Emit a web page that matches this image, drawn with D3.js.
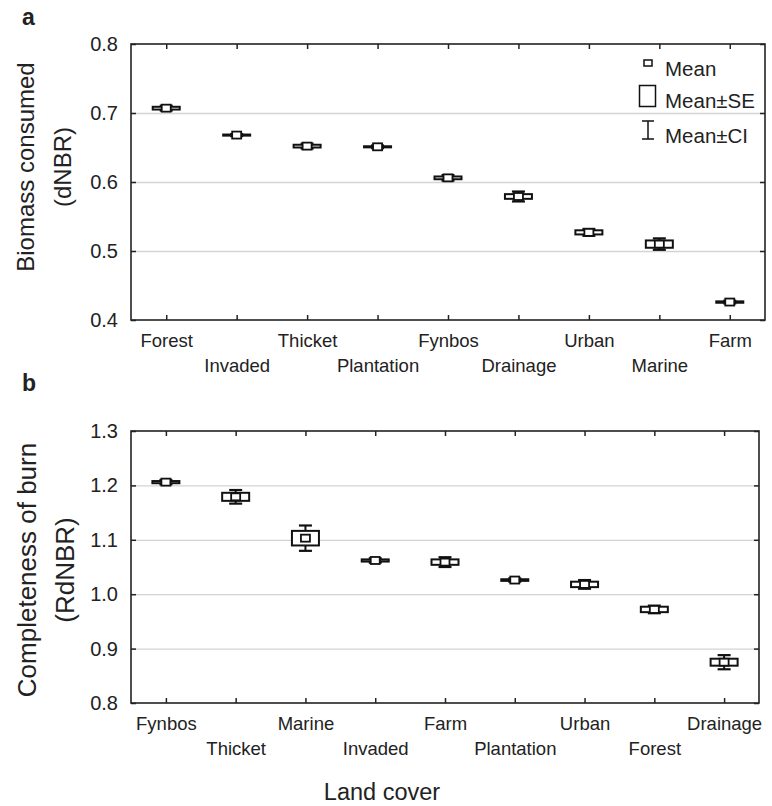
<!DOCTYPE html>
<html>
<head>
<meta charset="utf-8">
<script src="https://cdn.jsdelivr.net/npm/d3@7"></script>
<style>
  body { margin: 0; background: #fff; }
  text { font-family: "Liberation Sans", Arial, sans-serif; fill: #222; }
</style>
</head>
<body>
<div class="center"></div>
<script>
const w = 772;
const h = 806;

// panel a
const topCats = ["Forest", "Invaded", "Thicket", "Plantation", "Fynbos", "Drainage", "Urban", "Marine", "Farm"];
const topMean = [0.707, 0.668, 0.652, 0.651, 0.606, 0.579, 0.527, 0.510, 0.426];
const topSE   = [0.002, 0.0008, 0.002, 0.0008, 0.002, 0.0034, 0.003, 0.0053, 0.001];
const topCI   = [0.0035, 0.0015, 0.0035, 0.002, 0.004, 0.0072, 0.005, 0.0083, 0.002];
const topTicks = [0.4, 0.5, 0.6, 0.7, 0.8];

// panel b
const botCats = ["Fynbos", "Thicket", "Marine", "Invaded", "Farm", "Plantation", "Urban", "Forest", "Drainage"];
const botMean = [1.206, 1.179, 1.103, 1.062, 1.059, 1.026, 1.018, 0.972, 0.875];
const botSE   = [0.002, 0.0074, 0.0134, 0.002, 0.005, 0.0015, 0.005, 0.005, 0.0064];
const botCI   = [0.004, 0.0125, 0.0233, 0.004, 0.009, 0.003, 0.008, 0.007, 0.013];
const botTicks = [0.8, 0.9, 1.0, 1.1, 1.2, 1.3];

const svg = d3.select(".center")
    .append("svg")
    .attr("width", w)
    .attr("height", h);

function panel(opt) {
    const { x0, x1, y0, y1, cats, mean, se, ci, ticks, letter, title1, title2, t1x, t2x, tcy, tsize } = opt;

    const xScale = d3.scalePoint().domain(cats).range([x0, x1]).padding(0.5);
    const yScale = d3.scaleLinear().domain([ticks[0], ticks[ticks.length - 1]]).range([y1, y0]);

    const g = svg.append("g");

    // grid
    g.append("g")
        .attr("transform", `translate(${x0},0)`)
        .call(d3.axisLeft(yScale).tickValues(ticks.slice(1, -1)).tickSize(-(x1 - x0)).tickFormat(""))
        .call(a => a.select(".domain").remove())
        .call(a => a.selectAll("line").attr("stroke", "#d4d4d4").attr("stroke-width", 1.3));

    // axes, ticks inward
    g.append("g")
        .attr("transform", `translate(${x0},0)`)
        .call(d3.axisLeft(yScale).tickValues(ticks).tickSize(-5).tickPadding(13).tickFormat(d3.format(".1f")))
        .call(a => a.select(".domain").remove())
        .call(a => a.selectAll("line").attr("stroke", "#222").attr("stroke-width", 1.5))
        .call(a => a.selectAll("text").attr("font-size", 20).attr("fill", "#333").style("font-family", "Liberation Sans, Arial, sans-serif"));

    g.append("g")
        .attr("transform", `translate(${x1},0)`)
        .call(d3.axisRight(yScale).tickValues(ticks).tickSize(-5).tickFormat(""))
        .call(a => a.select(".domain").remove())
        .call(a => a.selectAll("line").attr("stroke", "#222").attr("stroke-width", 1.5));

    g.append("g")
        .attr("transform", `translate(0,${y0})`)
        .call(d3.axisTop(xScale).tickSize(-5).tickFormat(""))
        .call(a => a.select(".domain").remove())
        .call(a => a.selectAll("line").attr("stroke", "#222").attr("stroke-width", 1.5));

    g.append("g")
        .attr("transform", `translate(0,${y1})`)
        .call(d3.axisBottom(xScale).tickSize(-5).tickPadding(14))
        .call(a => a.select(".domain").remove())
        .call(a => a.selectAll("line").attr("stroke", "#222").attr("stroke-width", 1.5))
        .call(a => a.selectAll("text")
            .attr("font-size", 18.5)
            .attr("fill", "#222")
            .style("font-family", "Liberation Sans, Arial, sans-serif")
            .attr("y", (d, i) => i % 2 ? 39 : 14));

    g.append("rect")
        .attr("x", x0).attr("y", y0)
        .attr("width", x1 - x0).attr("height", y1 - y0)
        .attr("fill", "none").attr("stroke", "#222").attr("stroke-width", 1.6);

    // boxes
    const data = cats.map((c, i) => ({ c, m: mean[i], s: se[i], ci: ci[i] }));
    const box = g.selectAll(".box").data(data).enter().append("g").attr("class", "box");

    box.append("line")
        .attr("x1", d => xScale(d.c)).attr("x2", d => xScale(d.c))
        .attr("y1", d => yScale(d.m + d.ci)).attr("y2", d => yScale(d.m - d.ci))
        .attr("stroke", "#111").attr("stroke-width", 2);
    box.selectAll(".cap").data(d => [[d.c, d.m + d.ci], [d.c, d.m - d.ci]]).enter().append("line")
        .attr("x1", d => xScale(d[0]) - 6.5).attr("x2", d => xScale(d[0]) + 6.5)
        .attr("y1", d => yScale(d[1])).attr("y2", d => yScale(d[1]))
        .attr("stroke", "#111").attr("stroke-width", 2.2);
    box.append("rect")
        .attr("x", d => xScale(d.c) - 13.5)
        .attr("y", d => yScale(d.m + d.s))
        .attr("width", 27)
        .attr("height", d => Math.max(yScale(d.m - d.s) - yScale(d.m + d.s), 0.5))
        .attr("fill", "#fff").attr("stroke", "#111").attr("stroke-width", 2);
    box.append("rect")
        .attr("x", d => xScale(d.c) - 4.5)
        .attr("y", d => yScale(d.m) - 3.5)
        .attr("width", 9).attr("height", 7)
        .attr("fill", "#fff").attr("stroke", "#111").attr("stroke-width", 1.8);

    // panel letter and y title
    svg.append("text").attr("x", 22).attr("y", letter.y)
        .attr("font-size", 23).attr("font-weight", "bold").attr("fill", "#111").text(letter.t);

    svg.append("text")
        .attr("transform", `translate(${t1x},${tcy}) rotate(-90)`)
        .attr("text-anchor", "middle").attr("font-size", tsize).attr("fill", "#333").text(title1);
    svg.append("text")
        .attr("transform", `translate(${t2x},${tcy}) rotate(-90)`)
        .attr("text-anchor", "middle").attr("font-size", tsize).attr("fill", "#333").text(title2);

    return { xScale, yScale, g };
}

const a = panel({
    x0: 131, x1: 765, y0: 44, y1: 320,
    cats: topCats, mean: topMean, se: topSE, ci: topCI, ticks: topTicks,
    letter: { t: "a", y: 25 },
    title1: "Biomass consumed", title2: "(dNBR)",
    t1x: 34, t2x: 71, tcy: 167, tsize: 24
});

panel({
    x0: 131, x1: 759, y0: 431, y1: 703,
    cats: botCats, mean: botMean, se: botSE, ci: botCI, ticks: botTicks,
    letter: { t: "b", y: 391 },
    title1: "Completeness of burn", title2: "(RdNBR)",
    t1x: 36, t2x: 74, tcy: 570, tsize: 26
});

svg.append("text")
    .attr("x", 382).attr("y", 800)
    .attr("text-anchor", "middle").attr("font-size", 23.5).attr("fill", "#333")
    .text("Land cover");

// legend
const lg = a.g.append("g");
lg.append("rect").attr("x", 644).attr("y", 60).attr("width", 8).attr("height", 6)
    .attr("fill", "#fff").attr("stroke", "#111").attr("stroke-width", 1.5);
lg.append("rect").attr("x", 639.5).attr("y", 85.5).attr("width", 16).attr("height", 21)
    .attr("fill", "#fff").attr("stroke", "#111").attr("stroke-width", 1.5);
lg.append("line").attr("x1", 648).attr("x2", 648).attr("y1", 121).attr("y2", 139).attr("stroke", "#111").attr("stroke-width", 1.5);
lg.append("line").attr("x1", 642).attr("x2", 654).attr("y1", 121).attr("y2", 121).attr("stroke", "#111").attr("stroke-width", 1.5);
lg.append("line").attr("x1", 642).attr("x2", 654).attr("y1", 139).attr("y2", 139).attr("stroke", "#111").attr("stroke-width", 1.5);
const legendText = ["Mean", "Mean±SE", "Mean±CI"];
lg.selectAll(".lt").data(legendText).enter().append("text")
    .attr("x", 665)
    .attr("y", (d, i) => [76, 108, 143][i])
    .attr("font-size", 20.5).attr("fill", "#222")
    .text(d => d);
</script>
</body>
</html>
